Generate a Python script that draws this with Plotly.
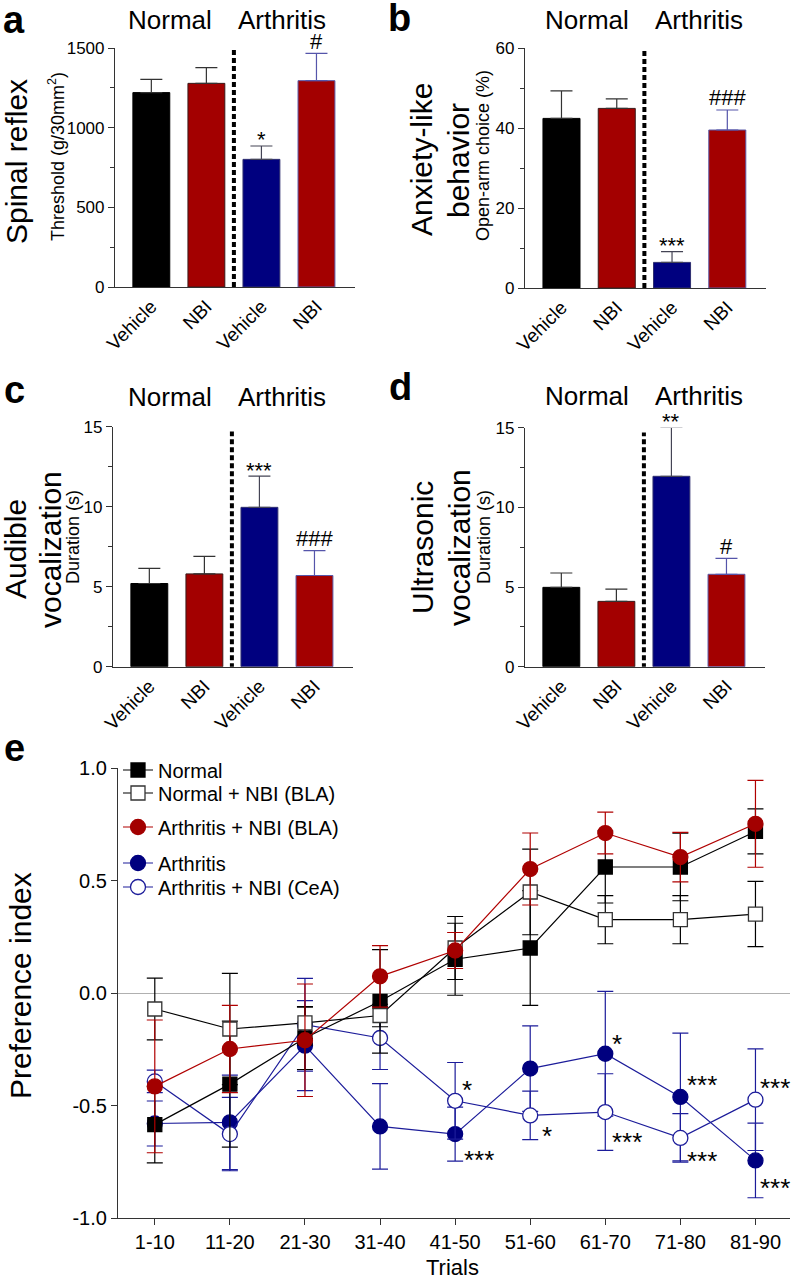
import plotly.graph_objects as go

W, H = 797, 1280
FONT = "Liberation Sans, Arial, Helvetica, sans-serif"


def px(x):
    return x / W


def py(y):
    return 1 - y / H


# ---- bar panels (a-d) ----
bar_labels = ["Vehicle", "NBI", "Vehicle", "NBI"]
bar_colors = ["#000000", "#a30000", "#00007f", "#a30000"]
bar_edges = ["#000000", "#3a1a1a", "#303070", "#5a5aa8"]
err_colors = ["#333333", "#333333", "#444455", "#5555aa"]

reflex_mean = [1220, 1278, 801, 1295]
reflex_sem = [83, 99, 84, 171]
reflex_sig = ["", "", "*", "#"]

anxiety_mean = [42.4, 44.9, 6.4, 39.5]
anxiety_sem = [6.9, 2.4, 2.7, 5.0]
anxiety_sig = ["", "", "***", "###"]

audible_mean = [5.2, 5.8, 9.96, 5.7]
audible_sem = [0.95, 1.1, 1.95, 1.55]
audible_sig = ["", "", "***", "###"]

ultra_mean = [4.98, 4.1, 11.95, 5.8]
ultra_sem = [0.9, 0.77, 3.07, 1.0]
ultra_sig = ["", "", "**", "#"]

# ---- panel e ----
trials = ["1-10", "11-20", "21-30", "31-40", "41-50", "51-60", "61-70", "71-80", "81-90"]
normal = [-0.585, -0.405, -0.2, -0.037, 0.15, 0.2, 0.56, 0.56, 0.718]
normal_sem = [0.17, 0.28, 0.14, 0.23, 0.16, 0.255, 0.16, 0.15, 0.10]
normal_nbi = [-0.071, -0.16, -0.133, -0.10, 0.2, 0.449, 0.326, 0.326, 0.351]
normal_nbi_sem = [0.137, 0.247, 0.07, 0.05, 0.14, 0.19, 0.107, 0.107, 0.145]
arth_nbi_bla = [-0.415, -0.249, -0.21, 0.074, 0.189, 0.551, 0.711, 0.604, 0.752]
arth_nbi_bla_sem = [0.295, 0.194, 0.25, 0.137, 0.08, 0.16, 0.093, 0.11, 0.193]
arth = [-0.58, -0.575, -0.234, -0.593, -0.627, -0.336, -0.27, -0.462, -0.744]
arth_sem = [0.1, 0.21, 0.2, 0.19, 0.12, 0.19, 0.277, 0.284, 0.166]
arth_nbi_cea = [-0.393, -0.627, -0.141, -0.2, -0.479, -0.544, -0.529, -0.644, -0.474]
arth_nbi_cea_sem = [0.05, 0.163, 0.206, 0.14, 0.17, 0.108, 0.17, 0.108, 0.226]

fig = go.Figure()
annotations = []
shapes = []
layout = {}


def label(text, x, y, size, angle=0):
    # free text placed in page pixels
    annotations.append(dict(x=px(x), y=py(y), xref="paper", yref="paper", text=text,
                            textangle=angle, showarrow=False, xanchor="center", yanchor="middle",
                            font=dict(size=size, color="black")))


panels = [
    dict(n="", mean=reflex_mean, sem=reflex_sem, sig=reflex_sig, dx=(115, 355), dy=(48, 287),
         top=1500, dtick=500, minor=250, vl=(0, 1500)),
    dict(n="2", mean=anxiety_mean, sem=anxiety_sem, sig=anxiety_sig, dx=(525, 766), dy=(48, 288),
         top=60, dtick=20, minor=10, vl=(0, 60)),
    dict(n="3", mean=audible_mean, sem=audible_sem, sig=audible_sig, dx=(113, 353), dy=(426.7, 666.7),
         top=15, dtick=5, minor=2.5, vl=(-0.1, 14.7)),
    dict(n="4", mean=ultra_mean, sem=ultra_sem, sig=ultra_sig, dx=(525, 765), dy=(427.7, 666.7),
         top=15, dtick=5, minor=2.5, vl=(-0.1, 14.7)),
]

for p in panels:
    n = p["n"]
    for i in range(4):
        fig.add_trace(go.Bar(
            x=[i], y=[p["mean"][i]], width=0.67,
            marker=dict(color=bar_colors[i], line=dict(color=bar_edges[i], width=1)),
            error_y=dict(type="data", symmetric=False, array=[p["sem"][i]], arrayminus=[0],
                         color=err_colors[i], thickness=1.2, width=11),
            xaxis="x" + n, yaxis="y" + n, showlegend=False, hoverinfo="skip"))
        if p["sig"][i]:
            star = "*" in p["sig"][i]
            annotations.append(dict(
                x=i, y=(p["mean"][i] + p["sem"][i]) / p["top"], xref="x" + n, yref="y%s domain" % n,
                text=p["sig"][i], showarrow=False, xanchor="center", yanchor="middle",
                yshift=6 if star else 12, font=dict(size=22, color="black")))
    layout["xaxis" + n] = dict(
        domain=[px(p["dx"][0]), px(p["dx"][1])], anchor="y" + n, range=[-0.66, 3.7],
        tickvals=[0, 1, 2, 3], ticktext=bar_labels, tickangle=-45, ticks="",
        showline=True, linecolor="#333", linewidth=1.2, showgrid=False, zeroline=False,
        automargin=False, tickfont=dict(size=19, color="black"))
    layout["yaxis" + n] = dict(
        domain=[py(p["dy"][1]), py(p["dy"][0])], anchor="x" + n, range=[0, p["top"]],
        tick0=0, dtick=p["dtick"], ticks="outside", ticklen=6, tickcolor="#333",
        showline=True, linecolor="#333", linewidth=1.2, showgrid=False, zeroline=False,
        automargin=False,
        minor=dict(dtick=p["minor"], ticks="outside", ticklen=4, tickcolor="#333"),
        tickfont=dict(size=17, color="black"))
    shapes.append(dict(type="line", xref="x" + n, yref="y" + n, x0=1.5, x1=1.5,
                       y0=p["vl"][0], y1=p["vl"][1],
                       line=dict(color="black", width=4, dash="5px,3px")))

# group headers
for cx_n, cx_a, cy in [(170, 282, 20), (587, 699, 20), (170, 282, 397), (587, 699, 396)]:
    label("Normal", cx_n, cy, 26)
    label("Arthritis", cx_a, cy, 26)

# y titles (big + small)
ytitles = [
    ("Spinal reflex", 16, 162, 30), ("Threshold (g/30mm<sup>2</sup>)", 56, 157, 18),
    ("Anxiety-like", 421, 160, 30), ("behavior", 458, 160, 30), ("Open-arm choice (%)", 483, 156, 18),
    ("Audible", 15, 549, 30), ("vocalization", 50, 550, 30), ("Duration (s)", 73, 537, 18),
    ("Ultrasonic", 422, 548, 30), ("vocalization", 459, 548, 30), ("Duration (s)", 484, 537, 18),
    ("Preference index", 20, 986, 30),
]
for t, x, y, s in ytitles:
    label(t, x, y, s, angle=-90)

# panel letters
for t, x, y in [("a", 14, 20), ("b", 399, 18), ("c", 15, 390), ("d", 400, 387), ("e", 15, 748)]:
    label("<b>%s</b>" % t, x, y, 38)

label("Trials", 452, 1267, 22)

# ---- panel e traces (drawing order); each entry gets its own legend box ----
xs = list(range(len(trials)))
series = [
    ("Arthritis", arth, arth_sem, "#00007f", "#1c1c9a", "circle", "#00007f", "legend4", 15),
    ("Arthritis + NBI (CeA)", arth_nbi_cea, arth_nbi_cea_sem, "white", "#1c1c9a", "circle", "#1c1c9a", "legend5", 15),
    ("Normal", normal, normal_sem, "black", "black", "square", "black", "legend", 14),
    ("Normal + NBI (BLA)", normal_nbi, normal_nbi_sem, "white", "black", "square", "#333", "legend2", 14),
    ("Arthritis + NBI (BLA)", arth_nbi_bla, arth_nbi_bla_sem, "#a30000", "#b00000", "circle", "#a30000", "legend3", 15),
]
for name, vals, sems, fill, lc, sym, edge, leg, size in series:
    fig.add_trace(go.Scatter(
        x=xs, y=vals, name=name, mode="lines+markers",
        line=dict(color=lc, width=1.2),
        marker=dict(symbol=sym, size=size, color=fill, line=dict(color=edge, width=1.3)),
        error_y=dict(type="data", array=sems, color=lc, thickness=1.2, width=8),
        xaxis="x5", yaxis="y5", legend=leg))

for leg, ly in [("legend", 770), ("legend2", 793), ("legend3", 827), ("legend4", 863), ("legend5", 887)]:
    layout[leg] = dict(x=px(118), y=py(ly), xanchor="left", yanchor="middle",
                       font=dict(size=20, color="black"), bgcolor="rgba(0,0,0,0)", itemwidth=30)

# significance marks in panel e: (series, index, text, xshift, glyph offset px downward)
e_sig = [
    (arth_nbi_cea, 4, "*", 5, -18), (arth, 4, "***", 7, 19),
    (arth_nbi_cea, 5, "*", 10, 14),
    (arth, 6, "*", 5, -17), (arth_nbi_cea, 6, "***", 5, 23),
    (arth, 7, "***", 5, -19), (arth_nbi_cea, 7, "***", 5, 16),
    (arth_nbi_cea, 8, "***", 3, -19), (arth, 8, "***", 3, 21),
]
for vals, i, t, xsh, dyp in e_sig:
    annotations.append(dict(x=i, y=vals[i], xref="x5", yref="y5", text=t, showarrow=False,
                            xanchor="left", yanchor="middle", xshift=xsh, yshift=-(dyp + 7),
                            font=dict(size=26, color="black")))

layout["xaxis5"] = dict(
    domain=[px(118), px(790)], anchor="y5", range=[-0.49, 8.46],
    tickvals=xs, ticktext=trials, ticks="outside", ticklen=6, tickcolor="#333",
    showline=True, linecolor="#333", linewidth=1.2, showgrid=False, zeroline=False,
    automargin=False, tickfont=dict(size=20, color="black"))
layout["yaxis5"] = dict(
    domain=[py(1218), py(768)], anchor="x5", range=[-1, 1],
    tickvals=[-1, -0.5, 0, 0.5, 1], ticktext=["-1.0", "-0.5", "0.0", "0.5", "1.0"],
    ticks="outside", ticklen=6, tickcolor="#333",
    showline=True, linecolor="#333", linewidth=1.2, showgrid=False,
    zeroline=True, zerolinecolor="#b0b0b0", zerolinewidth=1,
    automargin=False, tickfont=dict(size=20, color="black"))

fig.update_layout(
    template="none",
    width=W, height=H, margin=dict(l=0, r=0, t=0, b=0, pad=0),
    paper_bgcolor="white", plot_bgcolor="white",
    font=dict(family=FONT, color="black"),
    annotations=annotations, shapes=shapes,
    **layout)

# the page body has a default 8px margin; drop it so the figure fills the window
fig.write_html("out.html", config={"displayModeBar": False},
               post_script="document.body.style.margin='0';")
